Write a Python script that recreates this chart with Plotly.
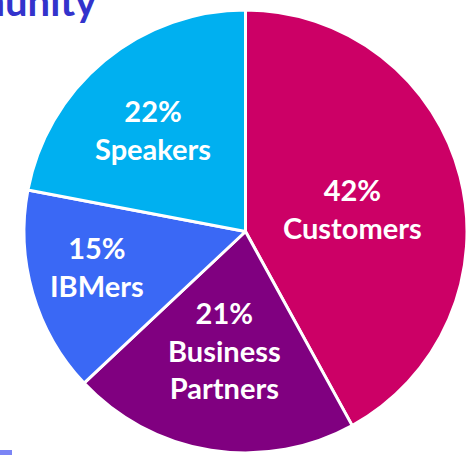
import plotly.graph_objects as go

# Data
labels = ["Customers", "Business Partners", "IBMers", "Speakers"]
values = [42, 21, 15, 22]
label_texts = ["42%<br>Customers", "21%<br>Business<br>Partners", "15%<br>IBMers", "22%<br>Speakers"]
colors = ["#CC0066", "#800080", "#3A68F5", "#00B0F0"]
title_text = "Community"

W, H = 467, 455

def px(x):
    return x / W

def py(y):
    return 1 - y / H

fig = go.Figure(
    go.Pie(
        labels=labels,
        values=values,
        sort=False,
        direction="clockwise",
        rotation=0,
        marker=dict(colors=colors, line=dict(color="white", width=3)),
        textinfo="none",
        hoverinfo="label+percent",
        domain=dict(x=[px(24), 1], y=[0, py(8)]),
        showlegend=False,
    )
)

# label centres (pixels)
label_pos = [(352, 209), (224, 350), (97, 266), (153, 129)]
font_family = "Lato, 'Open Sans', sans-serif"
for txt, (x, y) in zip(label_texts, label_pos):
    fig.add_annotation(
        x=px(x), y=py(y), xref="paper", yref="paper",
        text="<b>" + txt + "</b>", showarrow=False,
        xanchor="center", yanchor="middle", align="center",
        font=dict(family=font_family, size=29, color="white"),
    )

# cropped title
fig.add_annotation(
    x=px(99), y=py(27), xref="paper", yref="paper",
    text="<b>" + title_text + "</b>", showarrow=False,
    xanchor="right", yanchor="bottom",
    font=dict(family=font_family, size=40, color="#3333CC"),
)

# small square at bottom-left
fig.add_shape(type="rect", xref="paper", yref="paper",
              x0=0, x1=px(12), y0=0, y1=py(450),
              fillcolor="#7B85F5", line=dict(width=0))

fig.update_layout(
    width=W, height=H,
    margin=dict(l=0, r=0, t=0, b=0),
    paper_bgcolor="white", plot_bgcolor="white",
)

fig.write_html(
    "out.html",
    config={"displayModeBar": False},
    post_script="document.body.style.margin='0';document.body.style.overflow='hidden';",
)
